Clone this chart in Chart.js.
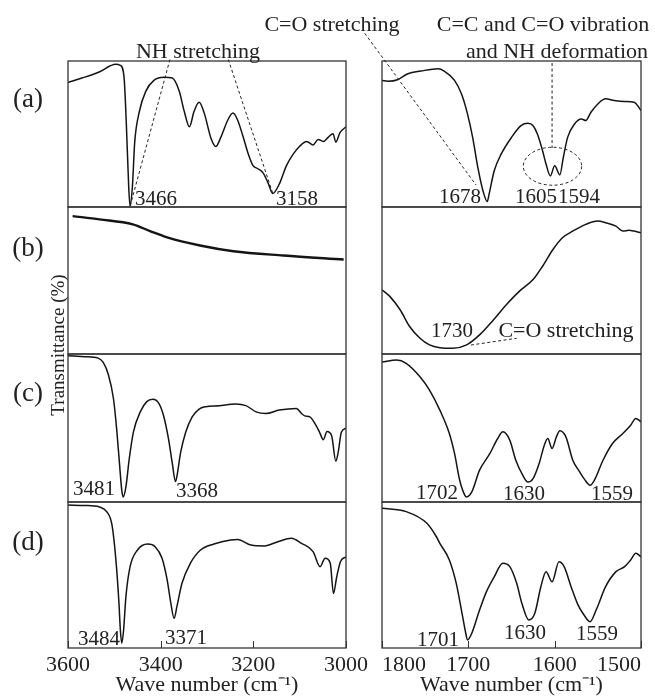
<!DOCTYPE html>
<html>
<head>
<meta charset="utf-8">
<script src="https://cdn.jsdelivr.net/npm/chart.js@4.4.1/dist/chart.umd.min.js"></script>
<style>
  html, body { margin: 0; padding: 0; background: #fff; }
  #figure { position: relative; width: 655px; height: 696px; overflow: hidden;
            font-family: "Liberation Serif", "Times New Roman", serif; color: #222; }
  #figure canvas { position: absolute; left: 0; top: 0; }
  .note { position: absolute; transform: translate(-50%, -50%); white-space: nowrap; line-height: 1; font-size: 22px; z-index: 5; }
  .num { font-size: 21px; }
  .tag { font-size: 27px; }
  .ytitle { font-size: 19px; transform: translate(-50%, -50%) rotate(-90deg); }
</style>
</head>
<body>
<div id="figure">
  <div class="note" style="left:198px;top:51px">NH stretching</div>
  <div class="note" style="left:332px;top:24px">C=O stretching</div>
  <div class="note" style="left:543px;top:24px">C=C and C=O vibration</div>
  <div class="note" style="left:557px;top:51px">and NH deformation</div>

  <div class="note tag" style="left:28px;top:98px">(a)</div>
  <div class="note tag" style="left:28px;top:247px">(b)</div>
  <div class="note tag" style="left:28px;top:392px">(c)</div>
  <div class="note tag" style="left:28px;top:541px">(d)</div>
  <div class="note ytitle" style="left:57px;top:345px">Transmittance (%)</div>

  <div class="note num" style="left:156px;top:198px">3466</div>
  <div class="note num" style="left:297px;top:198px">3158</div>
  <div class="note num" style="left:460px;top:196px">1678</div>
  <div class="note num" style="left:536px;top:196px">1605</div>
  <div class="note num" style="left:579px;top:196px">1594</div>

  <div class="note num" style="left:452px;top:330px">1730</div>
  <div class="note" style="left:566px;top:330px">C=O stretching</div>

  <div class="note num" style="left:94px;top:488px">3481</div>
  <div class="note num" style="left:197px;top:490px">3368</div>
  <div class="note num" style="left:437px;top:492px">1702</div>
  <div class="note num" style="left:524px;top:493px">1630</div>
  <div class="note num" style="left:612px;top:493px">1559</div>

  <div class="note num" style="left:99px;top:638px">3484</div>
  <div class="note num" style="left:186px;top:637px">3371</div>
  <div class="note num" style="left:438px;top:639px">1701</div>
  <div class="note num" style="left:525px;top:632px">1630</div>
  <div class="note num" style="left:597px;top:633px">1559</div>
</div>
<script>
// tick labels
const ticksHigh = [3000, 3200, 3400, 3600];
const ticksLow = [1500, 1600, 1700, 1800];

// (a) 3600-3000
const waveA1 = [3600, 3570, 3534, 3497, 3487, 3479, 3474, 3469, 3466, 3461, 3456, 3446, 3432, 3414, 3393, 3375, 3360, 3349, 3338, 3328, 3317, 3306, 3291, 3281, 3270, 3255, 3244, 3234, 3223, 3212, 3201, 3190, 3179, 3168, 3158, 3143, 3129, 3114, 3100, 3085, 3071, 3060, 3049, 3038, 3028, 3022, 3013, 3000];
const transA1 = [85.3, 88.3, 92.3, 97.7, 97.0, 88.8, 56.1, 14.0, 0.5, 14.0, 44.4, 65.4, 79.4, 86.9, 88.8, 88.3, 79.4, 65.4, 54.9, 65.4, 71.7, 64.3, 46.7, 41.4, 47.9, 59.6, 64.3, 59.6, 49.1, 37.4, 28.5, 26.2, 23.4, 16.4, 9.3, 16.4, 28.0, 36.2, 41.6, 44.9, 42.5, 46.3, 44.9, 47.9, 50.2, 44.4, 50.9, 54.9];
// (a) 1800-1500
const waveA2 = [1800, 1793, 1782, 1770, 1755, 1735, 1728, 1716, 1708, 1701, 1695, 1689, 1683, 1678, 1676, 1670, 1662, 1650, 1639, 1631, 1625, 1620, 1614, 1610, 1605, 1600, 1594, 1590, 1585, 1577, 1569, 1564, 1558, 1550, 1541, 1531, 1519, 1508, 1500];
const transA2 = [86.7, 86.2, 87.2, 91.3, 93.1, 94.7, 93.1, 86.7, 77.5, 63.8, 47.7, 27.1, 11.0, 3.7, 8.7, 24.8, 36.2, 47.7, 55.7, 57.3, 55.7, 50.0, 38.5, 29.4, 21.3, 28.2, 22.0, 33.9, 47.7, 56.9, 60.3, 59.2, 64.9, 70.6, 74.1, 72.9, 72.2, 71.8, 66.1];

// (b)
const waveB1 = [3590, 3532, 3460, 3423, 3386, 3315, 3243, 3135, 3005];
const transB1 = [93.8, 91.6, 88.2, 83.6, 79.3, 73.8, 69.9, 67.0, 64.3];
const waveB2 = [1800, 1791, 1779, 1768, 1756, 1745, 1733, 1718, 1702, 1687, 1671, 1656, 1641, 1625, 1614, 1602, 1591, 1579, 1564, 1550, 1541, 1529, 1521, 1514, 1508, 1500];
const transB2 = [43.7, 39.2, 30.1, 18.7, 10.7, 6.2, 4.3, 3.9, 6.2, 13.0, 23.2, 33.5, 42.6, 50.6, 59.7, 71.1, 79.1, 83.6, 88.2, 90.4, 89.3, 87.0, 83.6, 84.1, 83.6, 82.5];

// (c)
const waveC1 = [3600, 3564, 3535, 3524, 3513, 3502, 3495, 3489, 3484, 3481, 3475, 3468, 3459, 3444, 3430, 3417, 3404, 3394, 3383, 3375, 3368, 3365, 3357, 3346, 3332, 3317, 3303, 3274, 3238, 3216, 3194, 3173, 3144, 3107, 3096, 3089, 3078, 3067, 3057, 3049, 3041, 3031, 3022, 3017, 3010, 3000];
const transC1 = [98.9, 98.2, 97.2, 94.3, 86.2, 70.1, 49.4, 26.4, 8.0, 3.4, 10.3, 28.7, 47.1, 60.9, 67.8, 69.4, 66.7, 58.6, 42.5, 26.4, 13.8, 17.2, 33.3, 47.1, 57.5, 62.8, 64.4, 65.1, 66.2, 65.1, 60.9, 59.8, 62.1, 63.2, 59.8, 58.2, 57.5, 52.9, 47.1, 42.1, 47.6, 44.8, 27.6, 33.3, 47.1, 49.9];
const waveC2 = [1800, 1783, 1772, 1756, 1745, 1733, 1722, 1716, 1710, 1704, 1702, 1696, 1687, 1675, 1666, 1660, 1652, 1645, 1637, 1631, 1625, 1618, 1612, 1608, 1603, 1598, 1594, 1587, 1579, 1571, 1566, 1559, 1554, 1544, 1533, 1521, 1512, 1506, 1500];
const transC2 = [94.6, 95.9, 93.7, 84.6, 75.6, 62.1, 46.3, 32.8, 14.7, 4.5, 3.4, 6.8, 21.5, 32.8, 42.9, 47.4, 41.8, 28.2, 18.1, 13.5, 15.8, 26.0, 38.4, 42.9, 36.2, 44.0, 48.1, 44.0, 28.2, 20.3, 15.8, 11.3, 14.7, 28.2, 39.5, 46.3, 51.9, 56.5, 54.2];

// (d)
const waveD1 = [3600, 3564, 3532, 3516, 3505, 3496, 3490, 3487, 3484, 3480, 3475, 3466, 3450, 3428, 3412, 3397, 3386, 3378, 3371, 3365, 3354, 3336, 3314, 3285, 3249, 3234, 3205, 3176, 3147, 3118, 3096, 3071, 3056, 3045, 3034, 3027, 3020, 3012, 3000];
const transD1 = [97.9, 97.6, 96.6, 93.2, 84.2, 58.0, 30.6, 12.3, 3.2, 12.3, 35.2, 55.7, 67.1, 71.2, 69.4, 61.4, 46.6, 30.6, 20.3, 28.3, 44.3, 58.0, 67.1, 71.2, 74.0, 74.4, 70.5, 69.9, 72.8, 75.1, 71.7, 66.0, 55.7, 61.4, 58.0, 37.4, 48.8, 59.1, 62.5];
const waveD2 = [1800, 1772, 1748, 1737, 1733, 1722, 1714, 1708, 1703, 1701, 1696, 1687, 1679, 1670, 1660, 1652, 1644, 1638, 1630, 1623, 1616, 1610, 1603, 1595, 1589, 1581, 1573, 1566, 1559, 1552, 1541, 1529, 1519, 1512, 1506, 1500];
const transD2 = [95.7, 93.4, 85.4, 76.2, 71.7, 60.3, 44.3, 26.0, 10.1, 5.5, 10.1, 26.0, 38.6, 48.8, 58.0, 55.7, 44.3, 30.6, 19.2, 23.8, 42.0, 52.3, 45.4, 59.1, 55.7, 42.0, 29.5, 22.6, 18.0, 26.0, 42.0, 52.3, 55.7, 60.3, 64.9, 62.5];

const W = 655, H = 696, AXIS_H = 48;
const FONT = "'Liberation Serif', 'Times New Roman', serif";
const colX = [[68, 346], [382, 641]];
const rowY = [[61, 207], [207, 354], [354, 502], [502, 648]];

// dashed guide lines / ellipse, in data units of the panel they belong to
const notesA1 = [
  { type: 'line', from: [3380, 101], to: [3466, 0.5] },
  { type: 'line', from: [3254, 101], to: [3158, 9.3] }
];
const notesA2 = [
  { type: 'line', from: [1820, 119], to: [1691, 15] },
  { type: 'line', from: [1603, 98.6], to: [1603, 40.4] },
  { type: 'ellipse', at: [1602.5, 27.9], rx: 33.8, ry: 13 }
];
const notesB2 = [
  { type: 'line', from: [1697, 6.1], to: [1644, 10.7] }
];

const panels = [
  { wave: waveA1, trans: transA1, col: 0, row: 0, notes: notesA1 },
  { wave: waveA2, trans: transA2, col: 1, row: 0, notes: notesA2 },
  { wave: waveB1, trans: transB1, col: 0, row: 1, width: 2.4 },
  { wave: waveB2, trans: transB2, col: 1, row: 1, notes: notesB2 },
  { wave: waveC1, trans: transC1, col: 0, row: 2 },
  { wave: waveC2, trans: transC2, col: 1, row: 2 },
  { wave: waveD1, trans: transD1, col: 0, row: 3 },
  { wave: waveD2, trans: transD2, col: 1, row: 3 }
];

const framePlugin = {
  id: 'frame',
  afterDatasetsDraw(chart) {
    const { ctx, chartArea: a, scales: { x } } = chart;
    ctx.save();
    ctx.strokeStyle = '#333';
    ctx.lineWidth = 1.3;
    ctx.strokeRect(a.left, a.top, a.right - a.left, a.bottom - a.top);
    if (x.options.display) {
      // small inward ticks on the bottom axis
      ctx.lineWidth = 1;
      x.ticks.forEach(t => {
        const px = Math.round(x.getPixelForValue(t.value)) + 0.5;
        ctx.beginPath();
        ctx.moveTo(px, a.bottom);
        ctx.lineTo(px, a.bottom - 7);
        ctx.stroke();
      });
    }
    ctx.restore();
  }
};

function notesPlugin(notes) {
  return {
    id: 'notes',
    afterDraw(chart) {
      const { ctx, scales: { x, y } } = chart;
      ctx.save();
      ctx.strokeStyle = '#222';
      ctx.lineWidth = 1;
      ctx.setLineDash([3, 2.5]);
      notes.forEach(n => {
        ctx.beginPath();
        if (n.type === 'line') {
          ctx.moveTo(x.getPixelForValue(n.from[0]), y.getPixelForValue(n.from[1]));
          ctx.lineTo(x.getPixelForValue(n.to[0]), y.getPixelForValue(n.to[1]));
        } else {
          const cx = x.getPixelForValue(n.at[0]);
          const cy = y.getPixelForValue(n.at[1]);
          const rx = Math.abs(x.getPixelForValue(n.at[0] + n.rx) - cx);
          const ry = Math.abs(y.getPixelForValue(n.at[1] + n.ry) - cy);
          ctx.ellipse(cx, cy, rx, ry, 0, 0, Math.PI * 2);
        }
        ctx.stroke();
      });
      ctx.restore();
    }
  };
}

const fig = document.getElementById('figure');

panels.forEach(p => {
  const canvas = document.createElement('canvas');
  canvas.width = W;
  canvas.height = H;
  fig.appendChild(canvas);

  const [x0, x1] = colX[p.col];
  const [y0, y1] = rowY[p.row];
  const isBottom = p.row === 3;
  const ticks = p.col === 0 ? ticksHigh : ticksLow;

  new Chart(canvas, {
    type: 'line',
    data: {
      datasets: [{
        data: p.wave.map((w, i) => ({ x: w, y: p.trans[i] })),
        borderColor: '#141414',
        borderWidth: p.width || 1.5,
        pointRadius: 0,
        fill: false,
        cubicInterpolationMode: 'monotone'
      }]
    },
    options: {
      responsive: false,
      animation: false,
      events: [],
      layout: {
        padding: { left: x0, right: W - x1, top: y0, bottom: isBottom ? 0 : H - y1 }
      },
      plugins: {
        legend: { display: false },
        tooltip: { enabled: false }
      },
      scales: {
        x: {
          type: 'linear',
          reverse: true,
          min: ticks[0],
          max: ticks[ticks.length - 1],
          display: isBottom,
          afterBuildTicks: s => { s.ticks = ticks.map(v => ({ value: v })); },
          afterFit: s => { s.height = isBottom ? AXIS_H : 0; },
          grid: { display: false, drawTicks: false },
          border: { display: false },
          ticks: {
            font: { family: FONT, size: 22 },
            color: '#222',
            padding: 4,
            maxRotation: 0,
            autoSkip: false,
            align: p.col === 1 ? 'inner' : 'center',
            callback: v => String(v)
          },
          title: {
            display: true,
            text: 'Wave number (cm⁻¹)',
            font: { family: FONT, size: 22, lineHeight: 1 },
            color: '#222',
            padding: 0
          }
        },
        y: { display: false, min: 0, max: 100 }
      }
    },
    plugins: [framePlugin, notesPlugin(p.notes || [])]
  });
});
</script>
</body>
</html>
